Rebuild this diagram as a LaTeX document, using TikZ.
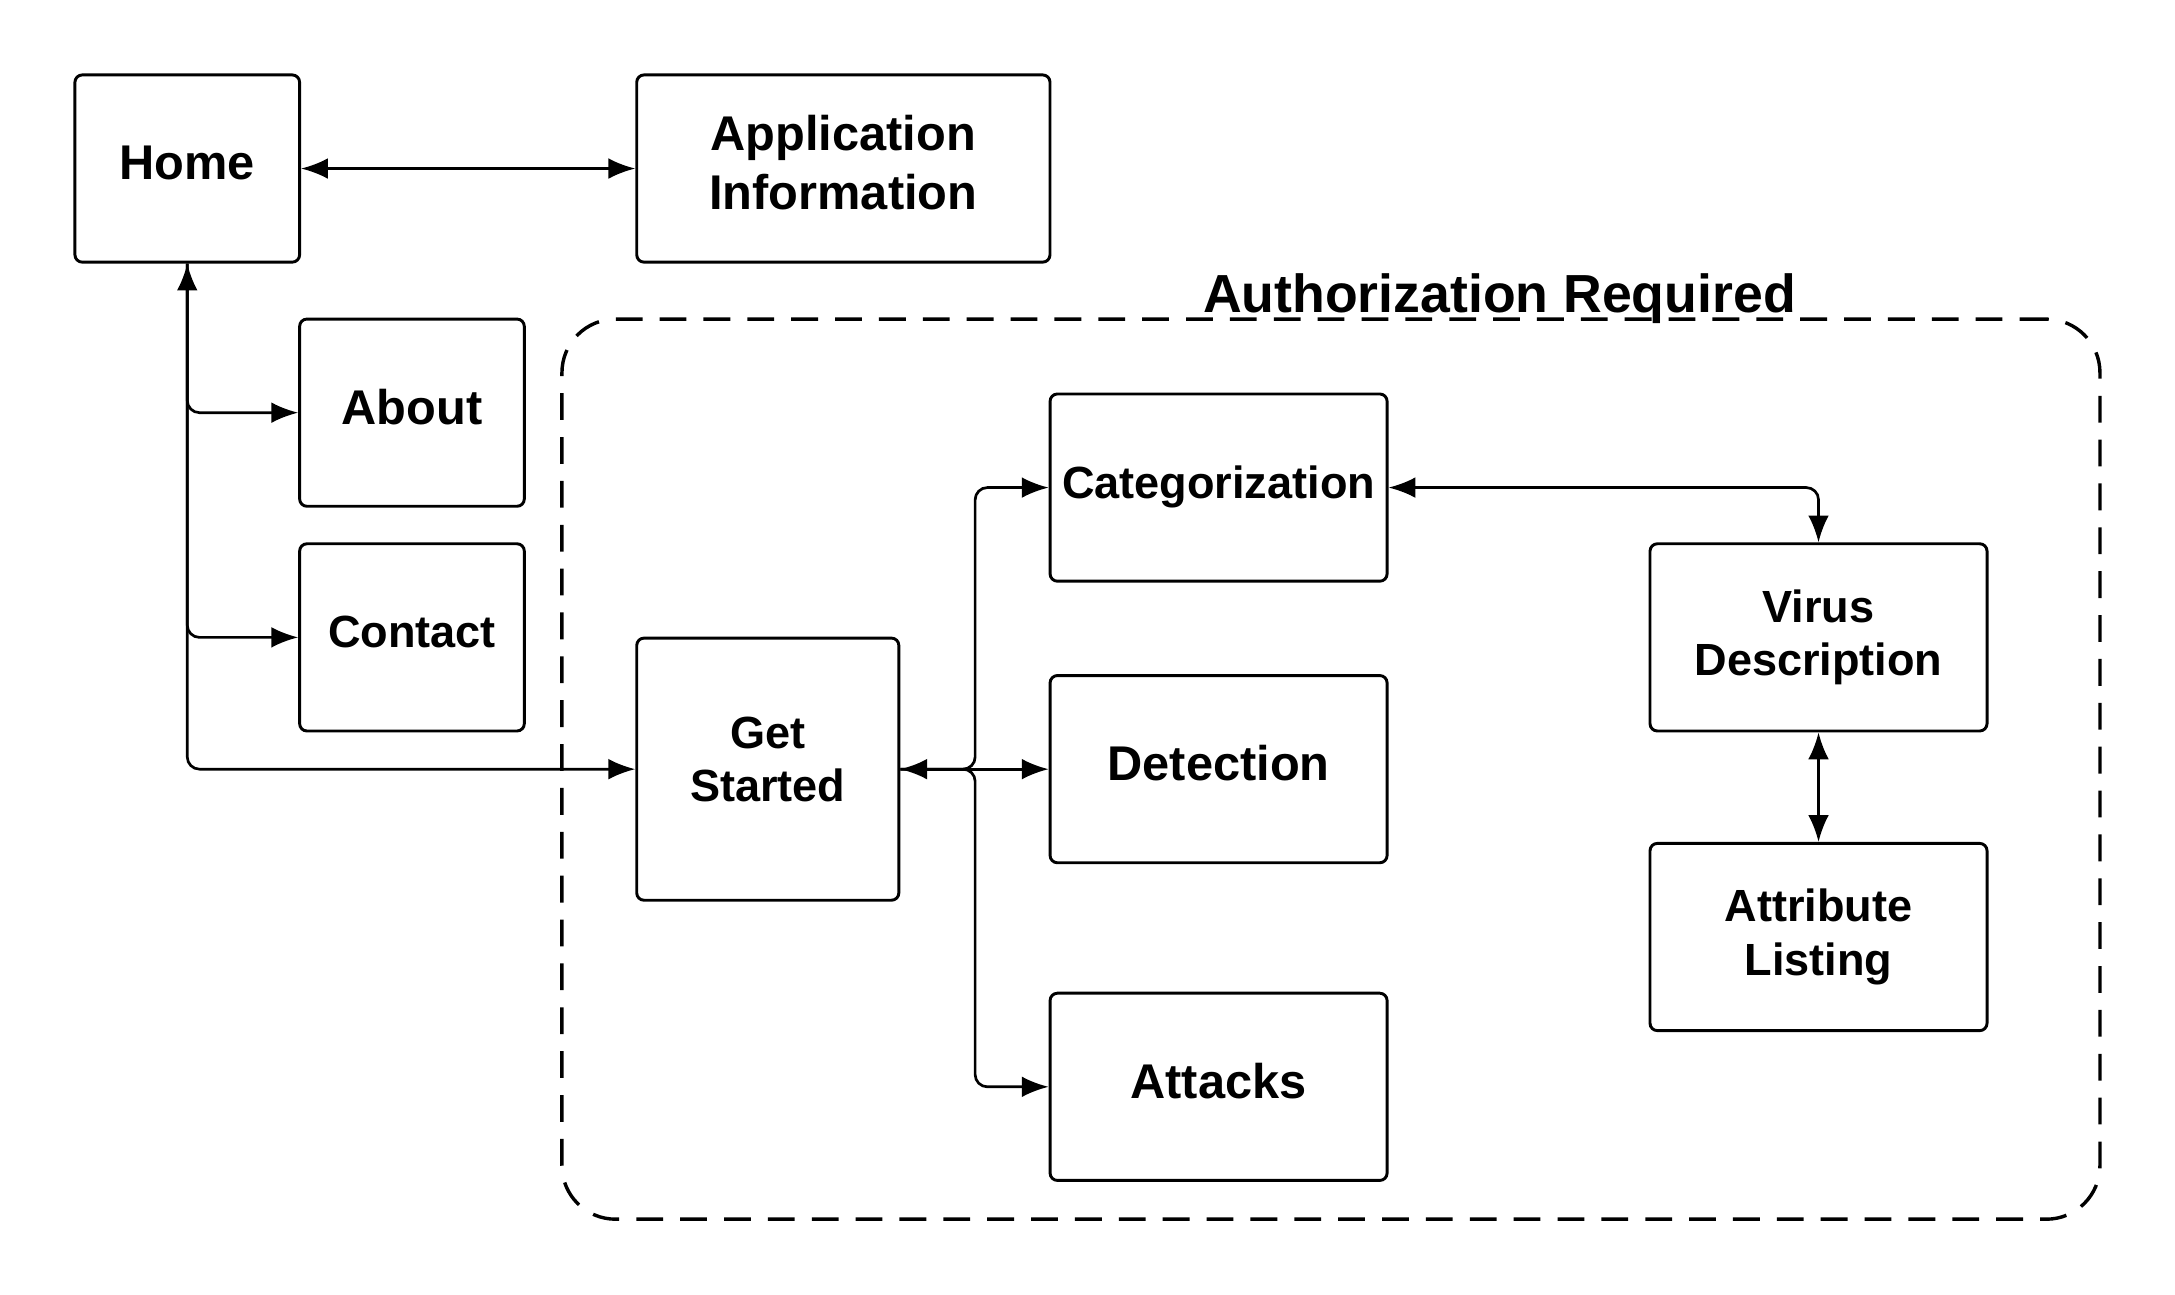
\documentclass[tikz,border=0pt]{standalone}
\usepackage{fontspec}
\setmainfont{Liberation Sans}
\usetikzlibrary{positioning}
\usetikzlibrary{arrows.meta}
\usepackage{xcolor}

\begin{document}
\begin{tikzpicture}[x=0.02cm, y=-0.02cm,
        box/.style={draw, line width=1.2pt, rounded corners=3pt, align=center, inner sep=0pt},
        big/.style={font=\fontsize{20}{24.4}\selectfont\bfseries},
        small/.style={font=\fontsize{18.5}{22}\selectfont\bfseries},
        bigline/.style={big, text height=14.4pt, text depth=5pt},
        smallline/.style={small, text height=13.3pt, text depth=4.6pt},
        narrow/.style={minimum width=3.24cm, minimum height=2.7cm},
        wide/.style={minimum width=4.86cm, minimum height=2.7cm},
        link/.style={line width=1.1pt, rounded corners=5pt},
        tip/.style={-{Latex[length=11pt,width=8.5pt]}},
        tips/.style={{Latex[length=11pt,width=8.5pt]}-{Latex[length=11pt,width=8.5pt]}}]
            \useasboundingbox (0,0) rectangle (1568,933);

            % dashed area
            \node[draw, line width=1.4pt, dash pattern=on 11pt off 7pt, rounded corners=22pt,
                  minimum width=22.18cm, minimum height=12.98cm] (authzone) at (959.5,554.5) {};
            \node[font=\fontsize{22}{26}\selectfont\bfseries, anchor=base, inner sep=0pt] (authtitle) at (1081,225) {Authorization Required};

            \node[box, bigline, narrow] (home) at (135,121.5) {Home};
            \node[box, big, text depth=5pt, minimum width=5.96cm, minimum height=2.7cm] (appinfo) at (608,121.5) {Application\\Information};
            \node[box, bigline, narrow] (about) at (297,297.5) {About};
            \node[box, smallline, narrow] (contact) at (297,459.5) {Contact};
            \node[box, small, text depth=8pt, minimum width=3.78cm, minimum height=3.78cm] (getstarted) at (553.5,554.5) {Get\\Started};
            \node[box, smallline, wide] (categ) at (878.5,351.5) {Categorization};
            \node[box, bigline, wide] (detect) at (878.5,554.5) {Detection};
            \node[box, bigline, wide] (attacks) at (878.5,783.5) {Attacks};
            \node[box, small, wide] (virus) at (1311,459.5) {Virus\\Description};
            \node[box, small, wide] (attrib) at (1311,675.5) {Attribute\\Listing};

            \coordinate (split) at (703,554.5);

            \draw[link, tips] (home) -- (appinfo);
            \draw[link, tips] (home.south) |- (getstarted.west);
            \draw[link, tip] (home.south) |- (about.west);
            \draw[link, tip] (home.south) |- (contact.west);
            \draw[link, tips] (getstarted) -- (detect);
            \draw[link, tip] (getstarted.east) -- (split) |- (categ.west);
            \draw[link, tip] (getstarted.east) -- (split) |- (attacks.west);
            \draw[link, tips] (categ.east) -| (virus.north);
            \draw[link, tips] (virus) -- (attrib);
        \end{tikzpicture}
\end{document}
